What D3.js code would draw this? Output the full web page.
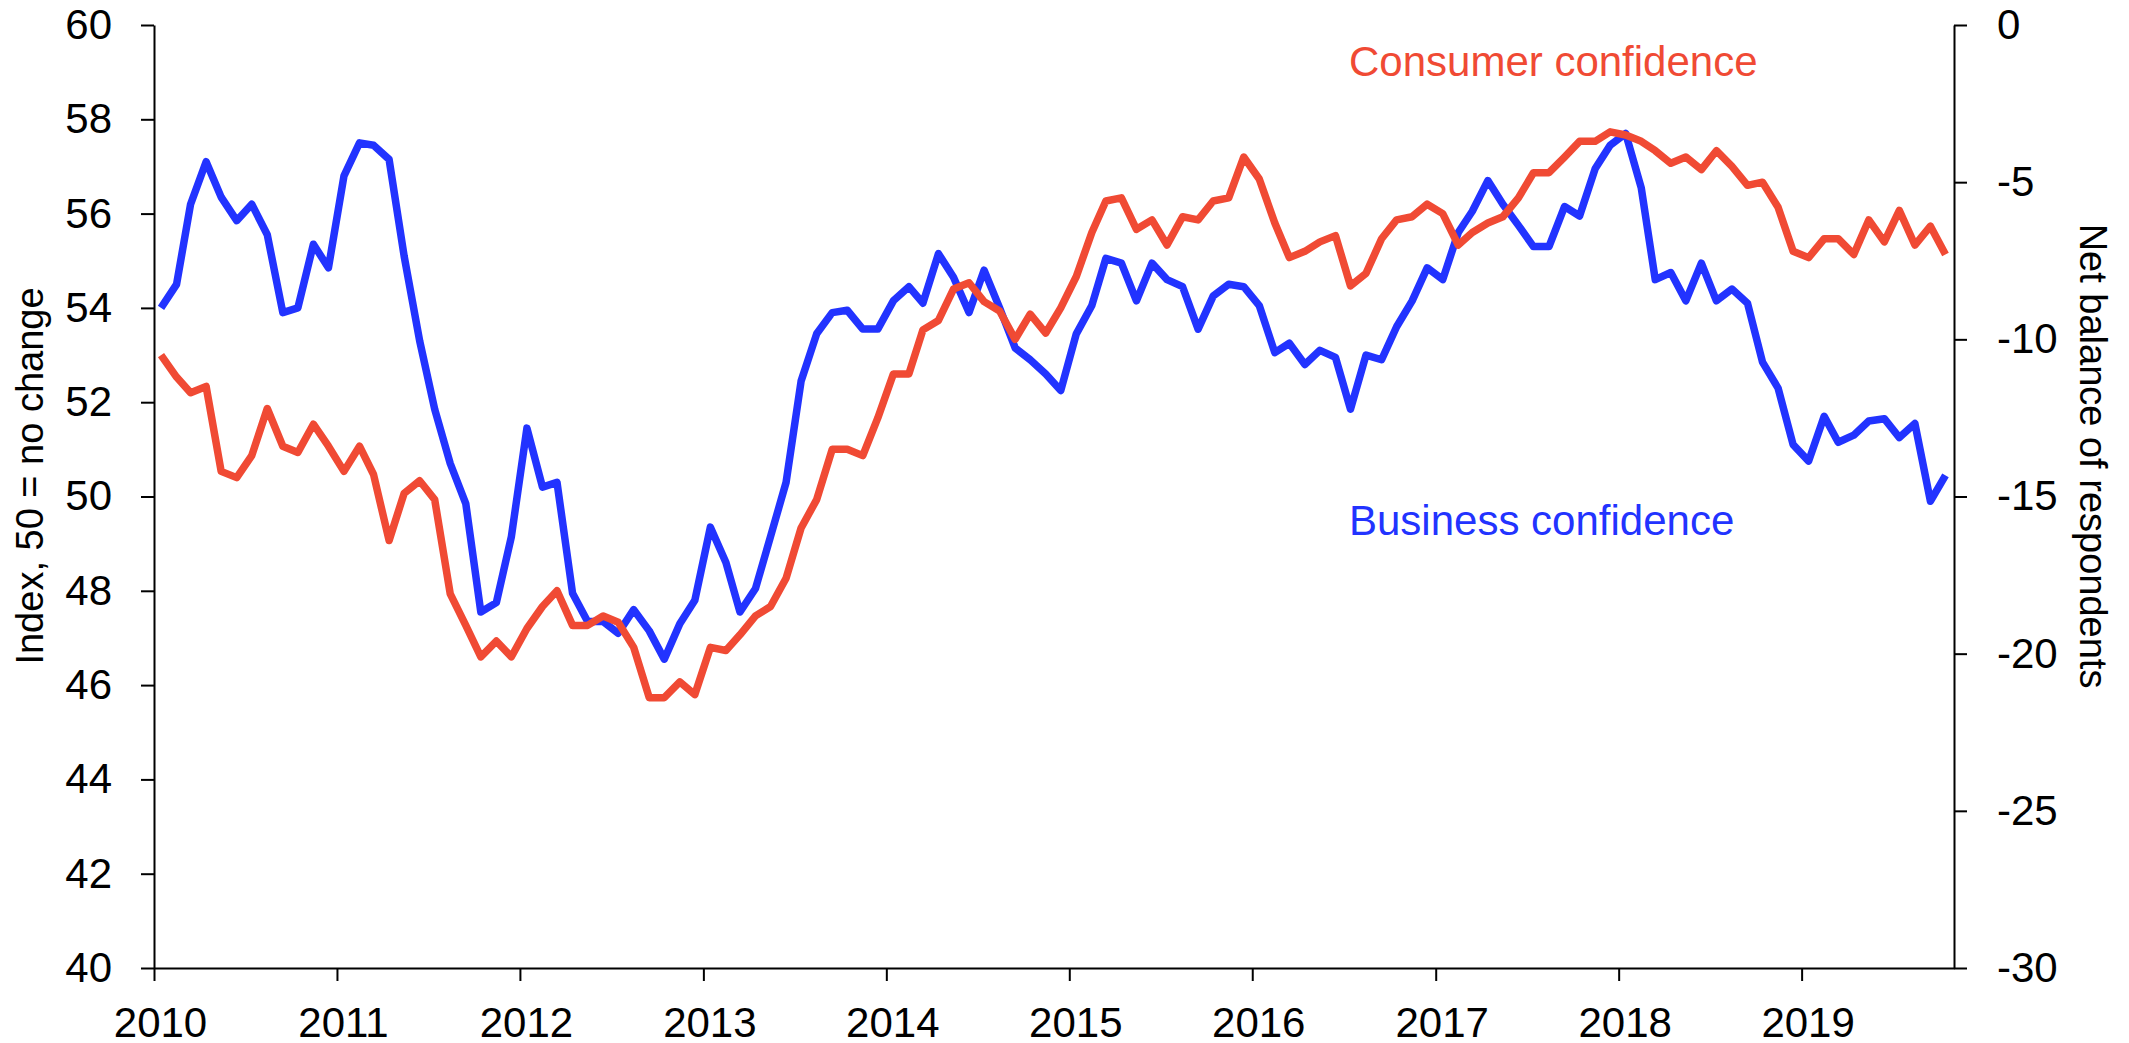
<!DOCTYPE html>
<html>
<head>
<meta charset="utf-8">
<script src="https://cdn.jsdelivr.net/npm/d3@7"></script>
<style>
  body { margin: 0; background: #fff; }
  text { font-family: "Liberation Sans", Arial, sans-serif; }
</style>
</head>
<body>
<svg id="chart" width="2129" height="1043"></svg>
<script>
// tick labels
var years = [2010, 2011, 2012, 2013, 2014, 2015, 2016, 2017, 2018, 2019];
var leftTicks = [40, 42, 44, 46, 48, 50, 52, 54, 56, 58, 60];
var rightTicks = [-30, -25, -20, -15, -10, -5, 0];

// monthly, Jan 2010 - Oct 2019
var firstMonth = "2010-01";

// business confidence, index (left axis)
var business = [
  54.0, 54.5, 56.2, 57.1, 56.35, 55.85, 56.2, 55.55, 53.9, 54.0, 55.35, 54.85,
  56.8, 57.5, 57.45, 57.15, 55.1, 53.3, 51.85, 50.7, 49.85, 47.55, 47.75, 49.15,
  51.45, 50.2, 50.3, 47.95, 47.35, 47.35, 47.1, 47.6, 47.15, 46.55, 47.3, 47.8,
  49.35, 48.6, 47.55, 48.05, 49.15, 50.3, 52.45, 53.45, 53.9, 53.95, 53.55, 53.55,
  54.15, 54.45, 54.1, 55.15, 54.65, 53.9, 54.8, 54.0, 53.15, 52.9, 52.6, 52.25,
  53.45, 54.05, 55.05, 54.95, 54.15, 54.95, 54.6, 54.45, 53.55, 54.25, 54.5, 54.45,
  54.05, 53.05, 53.25, 52.8, 53.1, 52.95, 51.85, 53.0, 52.9, 53.6, 54.15, 54.85,
  54.6, 55.6, 56.05, 56.7, 56.2, 55.75, 55.3, 55.3, 56.15, 55.95, 56.95, 57.45,
  57.7, 56.55, 54.6, 54.75, 54.15, 54.95, 54.15, 54.4, 54.1, 52.85, 52.3, 51.1,
  50.75, 51.7, 51.15, 51.3, 51.6, 51.65, 51.25, 51.55, 49.9, 50.45
];

// consumer confidence, net balance of respondents (right axis)
var consumer = [
  -10.5, -11.2, -11.7, -11.5, -14.2, -14.4, -13.7, -12.2, -13.4, -13.6, -12.7, -13.4,
  -14.2, -13.4, -14.3, -16.4, -14.9, -14.5, -15.1, -18.1, -19.1, -20.1, -19.6, -20.1,
  -19.2, -18.5, -18.0, -19.1, -19.1, -18.8, -19.0, -19.8, -21.4, -21.4, -20.9, -21.3,
  -19.8, -19.9, -19.4, -18.8, -18.5, -17.6, -16.0, -15.1, -13.5, -13.5, -13.7, -12.5,
  -11.1, -11.1, -9.7, -9.4, -8.4, -8.2, -8.8, -9.1, -10.0, -9.2, -9.8, -9.0,
  -8.0, -6.6, -5.6, -5.5, -6.5, -6.2, -7.0, -6.1, -6.2, -5.6, -5.5, -4.2,
  -4.9, -6.3, -7.4, -7.2, -6.9, -6.7, -8.3, -7.9, -6.8, -6.2, -6.1, -5.7,
  -6.0, -7.0, -6.6, -6.3, -6.1, -5.5, -4.7, -4.7, -4.2, -3.7, -3.7, -3.4,
  -3.5, -3.7, -4.0, -4.4, -4.2, -4.6, -4.0, -4.5, -5.1, -5.0, -5.8, -7.2,
  -7.4, -6.8, -6.8, -7.3, -6.2, -6.9, -5.9, -7.0, -6.4, -7.3
];

var blue = "#2233ff", red = "#f04a34";

var svg = d3.select("#chart");
// plot edges
var plotLeft = 154, plotRight = 1954, plotTop = 25, plotBottom = 968;

var start = d3.timeParse("%Y-%m")(firstMonth);
// each month is drawn at mid month
function monthDate(i) {
  return d3.timeDay.offset(d3.timeMonth.offset(start, i), 14);
}

var x = d3.scaleTime()
  .domain([start, d3.timeMonth.offset(start, 118)])
  .range([plotLeft, plotRight]);
var yL = d3.scaleLinear().domain([40, 60]).range([plotBottom, plotTop]);
var yR = d3.scaleLinear().domain([-30, 0]).range([plotBottom, plotTop]);

function styleAxis(g) {
  g.selectAll("path, line").attr("stroke", "#000").attr("stroke-width", 2);
  g.selectAll("text").attr("font-size", 42).attr("fill", "#000")
    .attr("font-family", "Liberation Sans, Arial, sans-serif");
}

svg.append("g")
  .attr("transform", "translate(" + plotLeft + ",0)")
  .call(d3.axisLeft(yL).tickValues(leftTicks).tickSize(13).tickSizeOuter(0).tickPadding(29))
  .call(styleAxis);

// plain hyphen for negatives, as in the original
svg.append("g")
  .attr("transform", "translate(" + plotRight + ",0)")
  .call(d3.axisRight(yR).tickValues(rightTicks)
    .tickFormat(function(d) { return String(d); })
    .tickSize(13).tickSizeOuter(0).tickPadding(30))
  .call(styleAxis);

svg.append("g")
  .attr("transform", "translate(0," + plotBottom + ")")
  .call(d3.axisBottom(x)
    .tickValues(years.map(function(y) { return new Date(y, 0, 1); }))
    .tickFormat(d3.timeFormat("%Y"))
    .tickSize(13).tickSizeOuter(0).tickPadding(26))
  .call(styleAxis)
  .selectAll("text").attr("dx", 6);

var lineL = d3.line()
  .x(function(d, i) { return x(monthDate(i)); })
  .y(function(d) { return yL(d); });
var lineR = d3.line()
  .x(function(d, i) { return x(monthDate(i)); })
  .y(function(d) { return yR(d); });

svg.append("path")
  .datum(business)
  .attr("d", lineL)
  .attr("fill", "none")
  .attr("stroke", blue)
  .attr("stroke-width", 7.5)
  .attr("stroke-linejoin", "round");

svg.append("path")
  .datum(consumer)
  .attr("d", lineR)
  .attr("fill", "none")
  .attr("stroke", red)
  .attr("stroke-width", 7.5)
  .attr("stroke-linejoin", "round");

// series labels
svg.append("text")
  .attr("x", 1349).attr("y", 76)
  .attr("font-size", 42).attr("fill", red)
  .text("Consumer confidence");
svg.append("text")
  .attr("x", 1349).attr("y", 535)
  .attr("font-size", 42).attr("fill", blue)
  .text("Business confidence");

// axis titles
svg.append("text")
  .attr("transform", "translate(43,476) rotate(-90)")
  .attr("text-anchor", "middle")
  .attr("font-size", 38)
  .text("Index, 50 = no change");
svg.append("text")
  .attr("transform", "translate(2080,456) rotate(90)")
  .attr("text-anchor", "middle")
  .attr("font-size", 38)
  .text("Net balance of respondents");
</script>
</body>
</html>
